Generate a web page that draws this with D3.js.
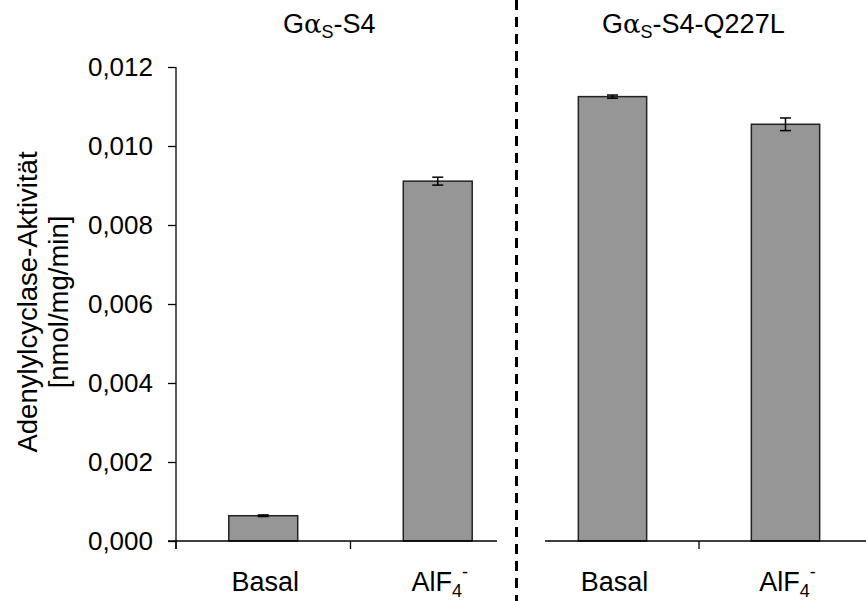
<!DOCTYPE html>
<html>
<head>
<meta charset="utf-8">
<script src="https://cdn.jsdelivr.net/npm/d3@7"></script>
<style>
  body { margin: 0; background: #fff; }
  text { font-family: "Liberation Sans", Arial, sans-serif; fill: #000; }
</style>
</head>
<body>
<div id="chart"></div>
<script>
// data
let categories = ["Basal", "AlF4-"];
let panelTitles = ["S4", "S4-Q227L"];
let meanS4 = [0.00064, 0.00911];
let errS4 = [0.00002, 0.0001];
let meanQ227L = [0.01125, 0.01055];
let errQ227L = [0.00004, 0.00016];
let yTicks = [0, 0.002, 0.004, 0.006, 0.008, 0.010, 0.012];
let yLabel = ["Adenylylcyclase-Aktivität", "[nmol/mg/min]"];

let width = 866, height = 601;
let fontSize = 26;

let svg = d3.select("#chart").append("svg")
    .attr("width", width)
    .attr("height", height);

let y = d3.scaleLinear()
    .domain([0, 0.012])
    .range([541, 67]);

let panels = [
    {title: panelTitles[0], mean: meanS4, err: errS4, range: [176, 525], clip: [0, 497], yAxis: true, titleX: 283},
    {title: panelTitles[1], mean: meanQ227L, err: errQ227L, range: [526, 872], clip: [545, 866], yAxis: false, titleX: 602}
];

panels.forEach(function(p, i) {
    let x = d3.scaleBand()
        .domain(categories)
        .range(p.range)
        .paddingInner(0.605)
        .paddingOuter(0.3025);

    let clipId = "clip" + i;
    svg.append("clipPath").attr("id", clipId)
        .append("rect")
        .attr("x", p.clip[0]).attr("y", 0)
        .attr("width", p.clip[1] - p.clip[0]).attr("height", height);

    let g = svg.append("g").attr("clip-path", "url(#" + clipId + ")");

    // bars
    g.selectAll(".bar")
        .data(p.mean)
        .enter().append("rect")
        .attr("class", "bar")
        .attr("x", (d, j) => x(categories[j]))
        .attr("width", x.bandwidth())
        .attr("y", d => y(d))
        .attr("height", d => y(0) - y(d))
        .attr("fill", "#969696")
        .attr("stroke", "#222")
        .attr("stroke-width", 1.5);

    // error bars
    let eb = g.selectAll(".err")
        .data(p.mean)
        .enter().append("g")
        .attr("class", "err")
        .attr("stroke", "#000")
        .attr("stroke-width", 1.5);
    eb.append("line")
        .attr("x1", (d, j) => x(categories[j]) + x.bandwidth() / 2)
        .attr("x2", (d, j) => x(categories[j]) + x.bandwidth() / 2)
        .attr("y1", (d, j) => y(d + p.err[j]))
        .attr("y2", (d, j) => y(d - p.err[j]));
    [1, -1].forEach(function(s) {
        eb.append("line")
            .attr("x1", (d, j) => x(categories[j]) + x.bandwidth() / 2 - 5.5)
            .attr("x2", (d, j) => x(categories[j]) + x.bandwidth() / 2 + 5.5)
            .attr("y1", (d, j) => y(d + s * p.err[j]))
            .attr("y2", (d, j) => y(d + s * p.err[j]));
    });

    // x axis: line plus ticks between categories
    let x0 = p.yAxis ? p.range[0] - 8 : p.range[0];
    g.append("line")
        .attr("x1", x0).attr("x2", p.range[1])
        .attr("y1", y(0)).attr("y2", y(0))
        .attr("stroke", "#000").attr("stroke-width", 1.3);
    let bounds = d3.range(categories.length + 1).map(k => p.range[0] + k * x.step());
    g.selectAll(".xtick")
        .data(bounds)
        .enter().append("line")
        .attr("x1", d => d).attr("x2", d => d)
        .attr("y1", y(0)).attr("y2", y(0) + 8)
        .attr("stroke", "#000").attr("stroke-width", 1.3);

    // category labels
    categories.forEach(function(c) {
        let t = svg.append("text")
            .attr("x", x(c) + x.bandwidth() / 2 + 2)
            .attr("y", 591)
            .attr("text-anchor", "middle")
            .attr("font-size", 27);
        if (c === "AlF4-") {
            t.append("tspan").text("AlF");
            t.append("tspan").attr("dy", 6).attr("font-size", 18).text("4");
            t.append("tspan").attr("dy", -19).attr("font-size", 18).text("-");
        } else {
            t.text(c);
        }
    });

    // panel title
    let tt = svg.append("text")
        .attr("x", p.titleX)
        .attr("y", 33)
        .attr("font-size", 27);
    tt.append("tspan").text("G");
    tt.append("tspan").attr("font-family", "DejaVu Serif").attr("font-size", 26).text("α");
    tt.append("tspan").attr("dy", 5).attr("font-size", 18).text("S");
    tt.append("tspan").attr("dy", -5).text("-" + p.title);

    // y axis
    if (p.yAxis) {
        let yAxis = d3.axisLeft(y)
            .tickValues(yTicks)
            .tickSize(8)
            .tickPadding(15)
            .tickFormat(d => d3.format(".3f")(d).replace(".", ","));
        let ya = svg.append("g")
            .attr("transform", "translate(" + p.range[0] + ",0)")
            .call(yAxis);
        ya.select(".domain").remove();
        ya.selectAll(".tick line").attr("stroke", "#000").attr("stroke-width", 1.3);
        ya.selectAll(".tick text")
            .attr("font-size", fontSize)
            .attr("font-family", "Liberation Sans, Arial, sans-serif")
            .attr("fill", "#000");
        svg.append("line")
            .attr("x1", p.range[0]).attr("x2", p.range[0])
            .attr("y1", y(0.012)).attr("y2", y(0) + 8)
            .attr("stroke", "#000").attr("stroke-width", 1.3);
    }
});

// y axis title
yLabel.forEach(function(l, i) {
    svg.append("text")
        .attr("transform", "translate(" + (37 + i * 31) + ",302) rotate(-90)")
        .attr("text-anchor", "middle")
        .attr("font-size", 27.5)
        .text(l);
});

// dashed divider
svg.append("line")
    .attr("x1", 516.5).attr("x2", 516.5)
    .attr("y1", 0).attr("y2", height)
    .attr("stroke", "#000")
    .attr("stroke-width", 3)
    .attr("stroke-dasharray", "10,7");
</script>
</body>
</html>
